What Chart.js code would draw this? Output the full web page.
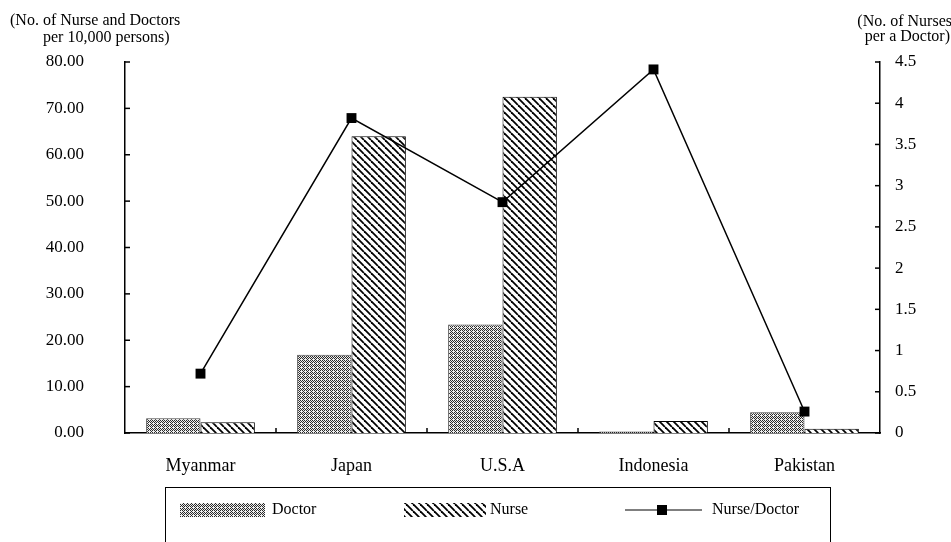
<!DOCTYPE html>
<html lang="en">
<head>
  <meta charset="UTF-8" />
  <title>Nurses and Doctors</title>
  <style>
    * { margin: 0; padding: 0; }
    body { background: #fff; overflow: hidden; }
  </style>
</head>
<body>
  <canvas id="myChart" width="951" height="542"></canvas>
  <script src="https://cdn.jsdelivr.net/npm/chart.js@4/dist/chart.umd.min.js"></script>
  <script>
    const countries = ["Myanmar", "Japan", "U.S.A", "Indonesia", "Pakistan"];
    const doctors = [3.2, 16.9, 23.4, 0.3, 4.5];
    const nurses = [2.3, 64.0, 72.5, 2.6, 0.9];
    const nursePerDoctor = [0.72, 3.82, 2.80, 4.41, 0.26];
    const leftMax = 80, leftStep = 10;
    const rightMax = 4.5, rightStep = 0.5;

    const FONT = "'Liberation Serif', 'DejaVu Serif', serif";

    // grainy grey dots for the doctor bars
    function stipple() {
      const c = document.createElement("canvas");
      c.width = 4; c.height = 4;
      const g = c.getContext("2d");
      g.fillStyle = "#eeeeee";
      g.fillRect(0, 0, 4, 4);
      g.fillStyle = "#2a2a2a";
      [[0, 0], [2, 0], [1, 1], [3, 1], [0, 2], [2, 2], [3, 3]].forEach(p => g.fillRect(p[0], p[1], 1, 1));
      return g.createPattern(c, "repeat");
    }

    // "\" hatching for the nurse bars
    function hatch() {
      const s = 7;
      const c = document.createElement("canvas");
      c.width = s; c.height = s;
      const g = c.getContext("2d");
      g.fillStyle = "#fff";
      g.fillRect(0, 0, s, s);
      g.strokeStyle = "#000";
      g.lineWidth = 1.8;
      [-s, 0, s].forEach(x0 => {
        g.beginPath();
        g.moveTo(x0, 0);
        g.lineTo(x0 + s, s);
        g.stroke();
      });
      return g.createPattern(c, "repeat");
    }

    const ctx = document.getElementById("myChart").getContext("2d");
    const doctorFill = stipple();
    const nurseFill = hatch();

    const axisTicks = {
      id: "axisTicks",
      afterDatasetsDraw(chart) {
        const { ctx, scales: { x, y, y1 } } = chart;
        ctx.save();
        ctx.strokeStyle = "#000";
        ctx.lineWidth = 1.5;
        const seg = (a, b, c, d) => { ctx.beginPath(); ctx.moveTo(a, b); ctx.lineTo(c, d); ctx.stroke(); };
        y.ticks.forEach(t => { const p = y.getPixelForValue(t.value); seg(y.right, p, y.right + 5, p); });
        y1.ticks.forEach(t => { const p = y1.getPixelForValue(t.value); seg(y1.left - 5, p, y1.left, p); });
        for (let i = 0; i < countries.length - 1; i++) {
          const p = (x.getPixelForTick(i) + x.getPixelForTick(i + 1)) / 2;
          seg(p, x.top, p, x.top - 5);
        }
        ctx.restore();
      }
    };

    const axisTitles = {
      id: "axisTitles",
      afterDraw(chart) {
        const c = chart.ctx;
        c.save();
        c.fillStyle = "#000";
        c.font = "16px " + FONT;
        c.textBaseline = "middle";
        c.textAlign = "left";
        c.fillText("(No. of Nurse and Doctors", 10, 21);
        c.fillText("per 10,000 persons)", 43, 38);
        c.textAlign = "right";
        c.fillText("(No. of Nurses", 952, 22);
        c.fillText("per a Doctor)", 950, 37);
        c.restore();
      }
    };

    const boxLegend = {
      id: "boxLegend",
      afterDraw(chart) {
        const c = chart.ctx;
        const ds = chart.data.datasets;
        const cy = 510;
        c.save();
        c.strokeStyle = "#000";
        c.lineWidth = 1;
        c.strokeRect(165.5, 487.5, 665, 80);
        c.font = "16px " + FONT;
        c.fillStyle = "#000";
        c.textBaseline = "middle";
        c.textAlign = "left";
        // Doctor
        c.fillStyle = ds[1].backgroundColor;
        c.fillRect(180, cy - 7, 85, 14);
        c.fillStyle = "#000";
        c.fillText(ds[1].label, 272, cy);
        // Nurse
        c.fillStyle = ds[2].backgroundColor;
        c.fillRect(404, cy - 7, 82, 14);
        c.fillStyle = "#000";
        c.fillText(ds[2].label, 490, cy);
        // Nurse/Doctor
        c.lineWidth = 1.2;
        c.beginPath();
        c.moveTo(625, cy);
        c.lineTo(702, cy);
        c.stroke();
        c.fillRect(657, cy - 5, 10, 10);
        c.fillText(ds[0].label, 712, cy);
        c.restore();
      }
    };

    const data = {
      labels: countries,
      datasets: [
        {
          type: "line",
          label: "Nurse/Doctor",
          data: nursePerDoctor,
          yAxisID: "y1",
          borderColor: "#000",
          backgroundColor: "#000",
          borderWidth: 1.5,
          pointStyle: "rect",
          pointRadius: 7,
          pointBorderWidth: 0,
          tension: 0,
          order: 0
        },
        {
          type: "bar",
          label: "Doctor",
          data: doctors,
          yAxisID: "y",
          backgroundColor: doctorFill,
          borderColor: "#444",
          borderWidth: 1,
          order: 1
        },
        {
          type: "bar",
          label: "Nurse",
          data: nurses,
          yAxisID: "y",
          backgroundColor: nurseFill,
          borderColor: "#000",
          borderWidth: 1,
          order: 1
        }
      ]
    };

    const options = {
      responsive: false,
      animation: false,
      layout: { padding: { top: 62, left: 0, right: 0, bottom: 0 } },
      datasets: { bar: { categoryPercentage: 0.72, barPercentage: 1 } },
      plugins: {
        legend: { display: false },
        tooltip: { enabled: false }
      },
      scales: {
        x: {
          grid: { display: false, drawTicks: false },
          border: { color: "#000", width: 1.5 },
          ticks: { color: "#000", font: { family: FONT, size: 18 }, padding: 22, maxRotation: 0 },
          afterFit: s => { s.height = 109; }
        },
        y: {
          position: "left",
          min: 0,
          max: leftMax,
          grid: { display: false, drawTicks: false },
          border: { color: "#000", width: 1.5 },
          ticks: {
            stepSize: leftStep,
            color: "#000",
            font: { family: FONT, size: 17 },
            padding: 41,
            callback: v => v.toFixed(2)
          },
          afterFit: s => { s.width = 125; }
        },
        y1: {
          position: "right",
          min: 0,
          max: rightMax,
          grid: { display: false, drawTicks: false },
          border: { color: "#000", width: 1.5 },
          ticks: {
            stepSize: rightStep,
            color: "#000",
            font: { family: FONT, size: 17 },
            padding: 15,
            callback: v => String(v)
          },
          afterFit: s => { s.width = 71; }
        }
      }
    };

    const myChart = new Chart(ctx, {
      data: data,
      options: options,
      plugins: [axisTicks, axisTitles, boxLegend]
    });
  </script>
</body>
</html>
